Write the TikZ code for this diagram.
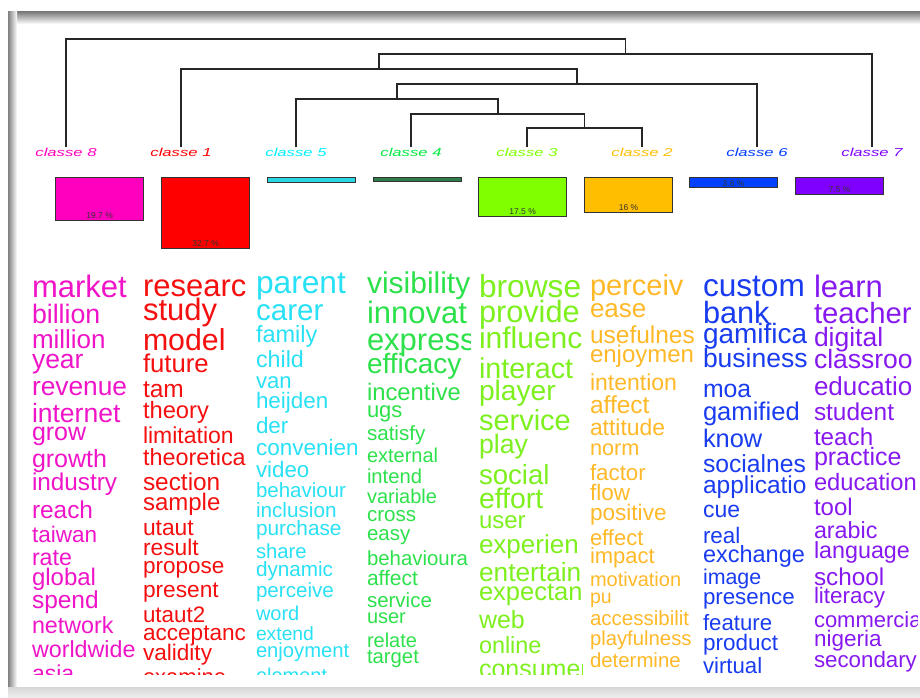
\documentclass[tikz,border=0pt]{standalone}
\usepackage{fontspec}
\setmainfont{Liberation Sans}
\usepackage{tikz}
\usetikzlibrary{positioning}
% class colours (labels and bars)
\definecolor{cl1}{RGB}{255,0,0}
\definecolor{cl2}{RGB}{255,191,0}
\definecolor{cl3}{RGB}{128,255,0}
\definecolor{cl4}{RGB}{0,235,64}
\definecolor{cl5}{RGB}{0,240,255}
\definecolor{cl6}{RGB}{0,64,255}
\definecolor{cl7}{RGB}{128,0,255}
\definecolor{cl8}{RGB}{255,0,191}
\definecolor{bar4}{RGB}{46,125,74}
\definecolor{bar5}{RGB}{40,215,225}
% word colours
\definecolor{wd1}{RGB}{245,15,15}
\definecolor{wd2}{RGB}{255,185,40}
\definecolor{wd3}{RGB}{125,240,30}
\definecolor{wd4}{RGB}{45,225,75}
\definecolor{wd5}{RGB}{40,225,245}
\definecolor{wd6}{RGB}{25,60,240}
\definecolor{wd7}{RGB}{135,25,240}
\definecolor{wd8}{RGB}{240,20,200}

% one column of the word cloud: name, left x, colour, word/size/baseline
\newcommand{\wordcol}[4]{%
  \begin{scope}
    \clip (#2,262) rectangle ++(103,412);
    \foreach \w/\s/\y [count=\i] in {#4} {
      \node[word, text=#3, font=\fontsize{\s}{\s}\selectfont] (#1w\i) at (#2,\y) {\w};
    }
  \end{scope}%
}

\begin{document}
\begin{tikzpicture}[
    x=1pt, y=-1pt,
    dendro/.style={line width=1.5pt, black!85},
    leaf/.style={anchor=base, inner sep=0pt, font=\fontsize{11.5}{11.5}\selectfont\itshape},
    bar/.style={draw=black!80, line width=1.2pt, minimum width=88pt, anchor=north west, inner sep=0pt},
    pct/.style={font=\fontsize{8.5}{8.5}\selectfont, text=black!80, inner sep=0pt},
    word/.style={anchor=base west, inner sep=0pt, outer sep=0pt}
]
\useasboundingbox (0,0) rectangle (920,697);
% Window frame
\fill[white] (0,0) rectangle (920,697);
\shade[top color=black!55, bottom color=white] (8,11) rectangle (920,24);
\shade[left color=black!50, right color=white] (8,11) rectangle (17,688);
\shade[top color=black!16, bottom color=black!7] (8,687) rectangle (920,697);

% Leaves
\node[leaf, text=cl8] (l8) at (66,156) {\scalebox{1.45}[1]{classe 8}};
\node[leaf, text=cl1] (l1) at (181,156) {\scalebox{1.45}[1]{classe 1}};
\node[leaf, text=cl5] (l5) at (296,156) {\scalebox{1.45}[1]{classe 5}};
\node[leaf, text=cl4] (l4) at (411,156) {\scalebox{1.45}[1]{classe 4}};
\node[leaf, text=cl3] (l3) at (527,156) {\scalebox{1.45}[1]{classe 3}};
\node[leaf, text=cl2] (l2) at (642,156) {\scalebox{1.45}[1]{classe 2}};
\node[leaf, text=cl6] (l6) at (757,156) {\scalebox{1.45}[1]{classe 6}};
\node[leaf, text=cl7] (l7) at (872,156) {\scalebox{1.45}[1]{classe 7}};

% Dendrogram
\coordinate (j32) at (584.5,128);
\coordinate (j4) at (498,114);
\coordinate (j5) at (397,99);
\coordinate (j6) at (577,84);
\coordinate (j1) at (379,69);
\coordinate (j7) at (625.5,54);
\coordinate (j8) at (346,39);
\draw[dendro] (l3.north) |- (j32) -| (l2.north);
\draw[dendro] (l4.north) |- (j4) -| (j32);
\draw[dendro] (l5.north) |- (j5) -| (j4);
\draw[dendro] (j5) |- (j6) -| (l6.north);
\draw[dendro] (l1.north) |- (j1) -| (j6);
\draw[dendro] (j1) |- (j7) -| (l7.north);
\draw[dendro] (l8.north) |- (j8) -| (j7);

% Bars
\node[bar, fill=cl8, minimum height=43pt] (b8) at (55,177) {};
\node[bar, fill=cl1, minimum height=71pt] (b1) at (161,177) {};
\node[bar, fill=bar5, minimum height=5pt] (b5) at (267,177) {};
\node[bar, fill=bar4, minimum height=4pt] (b4) at (373,177) {};
\node[bar, fill=cl3, minimum height=39pt] (b3) at (478,177) {};
\node[bar, fill=cl2, minimum height=35pt] (b2) at (584,177) {};
\node[bar, fill=cl6, minimum height=10pt] (b6) at (689,177) {};
\node[bar, fill=cl7, minimum height=17pt] (b7) at (795,177) {};
\node[pct, above=2pt of b8.south] (p8) {19.7 \%};
\node[pct, above=2pt of b1.south] (p1) {32.7 \%};
\node[pct, above=2pt of b3.south] (p3) {17.5 \%};
\node[pct, above=2pt of b2.south] (p2) {16 \%};
\node[pct, above=1pt of b6.south] (p6) {3.6 \%};
\node[pct, above=2pt of b7.south] (p7) {7.5 \%};

% Word cloud
\wordcol{c8}{32}{wd8}{market/31/297, billion/26.7/323, million/26/348, year/26.5/368,
  revenue/26.3/395, internet/26.5/422, grow/25/440, growth/25/467, industry/24.3/490,
  reach/24.4/518, taiwan/22.5/542, rate/23.2/565, global/24/585, spend/24.5/608,
  network/23.3/633, worldwide/23.3/657, asia/23/681}
\wordcol{c1}{143}{wd1}{researc/31/296, study/31/320, model/30.3/350, future/25.7/372,
  tam/24.5/397, theory/23.7/418, limitation/23/443, theoretica/23.4/465, section/24.4/490,
  sample/24/510, utaut/22.8/535, result/22.8/555, propose/22.5/573, present/22.7/597,
  utaut2/22.4/622, acceptanc/22.6/640, validity/22.6/660, examine/22/684}
\wordcol{c5}{256}{wd5}{parent/31.7/293, carer/29.6/320, family/23.5/342, child/23.3/367,
  van/22.1/388, heijden/22.4/408, der/22.4/433, convenien/22.5/455, video/22.3/477,
  behaviour/20.5/497, inclusion/20.7/517, purchase/20.8/535, share/20.3/558,
  dynamic/20.7/576, perceive/20.6/597, word/20/620, extend/19.3/640, enjoyment/20.2/657,
  element/20/682}
\wordcol{c4}{367}{wd4}{visibility/30/293, innovat/31/323, express/31/350, efficacy/28/373,
  incentive/23.8/400, ugs/22/417, satisfy/20.6/440, external/20/462, intend/20.2/483,
  variable/20/503, cross/20.6/521, easy/20.5/540, behavioura/20.4/565, affect/21/585,
  service/20.5/607, user/20/623, relate/20/647, target/20.3/663}
\wordcol{c3}{479}{wd3}{browse/31.7/297, provide/30.7/322, influenc/30/348, interact/28.7/378,
  player/28.2/400, service/29/430, play/26.7/453, social/27.6/484, effort/28.4/508,
  user/24/528, experien/26/553, entertain/26.3/581, expectan/25.5/600, web/25/628,
  online/23.4/653, consumer/25/677}
\wordcol{c2}{590}{wd2}{perceiv/29/295, ease/26/317, usefulnes/24.5/343, enjoymen/24/362,
  intention/23/390, affect/24.5/413, attitude/22.9/435, norm/21.7/455, factor/22.3/480,
  flow/22.5/500, positive/22.6/520, effect/22/545, impact/22/563, motivation/20/586,
  pu/19.5/603, accessibilit/20.5/625, playfulness/20.3/645, determine/20.4/667}
\wordcol{c6}{703}{wd6}{custom/31.6/296, bank/30.7/323, gamifica/28/343, business/26.5/367,
  moa/24.8/397, gamified/25.6/420, know/25.4/447, socialnes/24.7/472, applicatio/24.5/493,
  cue/23/517, real/22.4/543, exchange/23.5/562, image/21.4/584, presence/22.3/604,
  feature/22.2/630, product/22.5/650, virtual/22.2/673}
\wordcol{c7}{814}{wd7}{learn/31/297, teacher/29.3/323, digital/26.5/346, classroo/26.5/368,
  educatio/26/395, student/24.4/420, teach/24.2/445, practice/25/465, education/23.7/490,
  tool/24/515, arabic/23.3/538, language/23.3/558, school/24.3/585, literacy/22.4/603,
  commercia/22/627, nigeria/22.5/646, secondary/22.3/667}
\end{tikzpicture}
\end{document}
